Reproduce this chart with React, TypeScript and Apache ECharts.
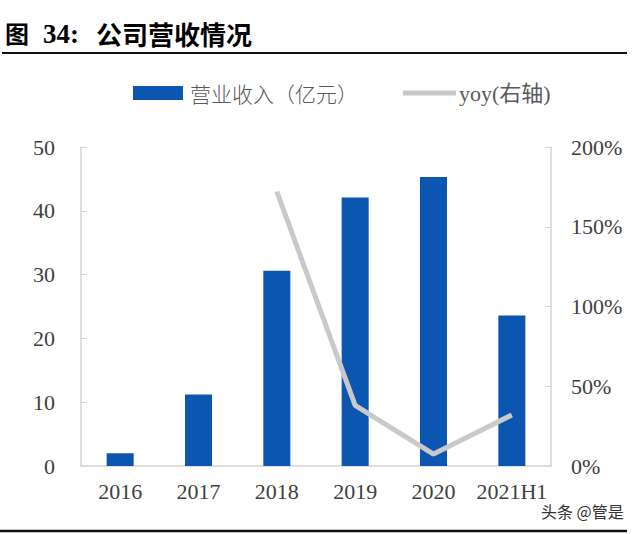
import React, { useEffect, useRef } from "react";
import * as echarts from "echarts";

const categories = ["2016", "2017", "2018", "2019", "2020", "2021H1"];
const revenue = [2.0, 11.2, 30.6, 42.1, 45.3, 23.6];
const yoy = [null, null, 1.72, 0.38, 0.075, 0.32];
const leftTicks = { min: 0, max: 50, interval: 10 };
const rightTicks = { min: 0, max: 2, interval: 0.5 };

const serif = "'Liberation Serif', 'Times New Roman', serif";
const cjk = "'Noto Sans CJK SC', sans-serif";

export default function App() {
  const ref = useRef<HTMLDivElement>(null);
  useEffect(() => {
    if (!ref.current) return;
    const chart = echarts.init(ref.current, null, { renderer: "svg" });
    chart.setOption({
      animation: false,
      backgroundColor: "#ffffff",
      grid: { left: 81, right: 89, top: 147, bottom: 68, containLabel: false },
      legend: [
        {
          data: [{ name: "营业收入（亿元）", icon: "rect" }],
          left: 133,
          top: 82,
          padding: 0,
          itemWidth: 50,
          itemHeight: 14,
          itemGap: 8,
          textStyle: { fontFamily: cjk, fontSize: 21, fontWeight: 300, lineHeight: 22, color: "#595959", padding: [0, 0, 0, 2] },
        },
        {
          data: [{ name: "yoy(右轴)", icon: "rect" }],
          left: 403,
          top: 82,
          padding: 0,
          itemWidth: 53,
          itemHeight: 5,
          itemGap: 3,
          textStyle: {
            fontFamily: "'Liberation Serif', 'Noto Sans CJK SC', serif",
            fontSize: 22,
            lineHeight: 22,
            color: "#595959",
            padding: [0, 0, 0, -2],
          },
        },
      ],
      xAxis: {
        type: "category",
        data: categories,
        axisTick: { show: false },
        axisLine: { lineStyle: { color: "#d4d4d4", width: 1.5 } },
        axisLabel: { fontFamily: serif, fontSize: 22, color: "#404040", margin: 14, interval: 0 },
      },
      yAxis: [
        {
          type: "value",
          ...leftTicks,
          splitLine: { show: false },
          axisLine: { show: true, lineStyle: { color: "#d4d4d4", width: 1.5 } },
          axisTick: { show: true, inside: true, length: 6, lineStyle: { color: "#d4d4d4" } },
          axisLabel: { fontFamily: serif, fontSize: 22, color: "#404040", margin: 26 },
        },
        {
          type: "value",
          ...rightTicks,
          position: "right",
          splitLine: { show: false },
          axisLine: { show: true, lineStyle: { color: "#d4d4d4", width: 1.5 } },
          axisTick: { show: true, inside: true, length: 6, lineStyle: { color: "#d4d4d4" } },
          axisLabel: {
            fontFamily: serif,
            fontSize: 22,
            color: "#404040",
            margin: 20,
            formatter: (v: number) => Math.round(v * 100) + "%",
          },
        },
      ],
      series: [
        {
          name: "营业收入（亿元）",
          type: "bar",
          data: revenue,
          barWidth: 27,
          itemStyle: { color: "#0B56B0" },
        },
        {
          name: "yoy(右轴)",
          type: "line",
          yAxisIndex: 1,
          data: yoy,
          showSymbol: false,
          symbol: "none",
          lineStyle: { color: "#C9C9C9", width: 5 },
          itemStyle: { color: "#C9C9C9" },
        },
      ],
      graphic: [
        {
          type: "text",
          left: 5,
          top: 20,
          style: { text: "图", fontFamily: cjk, fontWeight: "bold", fontSize: 24, fill: "#000" },
        },
        {
          type: "text",
          left: 43,
          top: 20,
          style: { text: "34:", fontFamily: serif, fontWeight: "bold", fontSize: 27, fill: "#000" },
        },
        {
          type: "text",
          left: 96,
          top: 20,
          style: { text: "公司营收情况", fontFamily: cjk, fontWeight: "bold", fontSize: 26, fill: "#000" },
        },
        {
          type: "line",
          shape: { x1: 2, y1: 53, x2: 627, y2: 53 },
          style: { stroke: "#111", lineWidth: 2 },
        },
        {
          type: "text",
          left: 541,
          top: 503,
          style: { text: "头条 @管是", fontFamily: cjk, fontSize: 16, fill: "#333" },
        },
        {
          type: "line",
          shape: { x1: 0, y1: 531, x2: 627, y2: 531 },
          style: { stroke: "#111", lineWidth: 2.5 },
        },
      ],
    });
    return () => chart.dispose();
  }, []);
  return <div ref={ref} style={{ width: 640, height: 534, position: "absolute", left: 0, top: 0 }} />;
}
